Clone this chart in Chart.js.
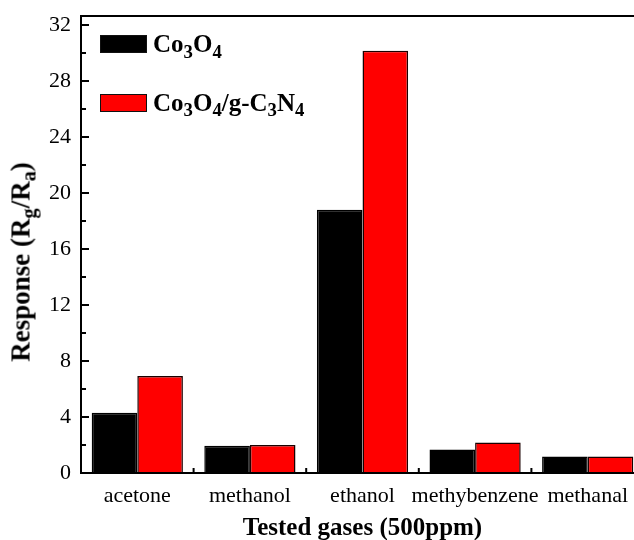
<!DOCTYPE html>
<html>
<head>
<meta charset="utf-8">
<title>Response of Co3O4 and Co3O4/g-C3N4</title>
<script src="https://cdn.jsdelivr.net/npm/chart.js@4.4.1/dist/chart.umd.min.js"></script>
<style>
    html, body { margin: 0; padding: 0; background: #fff; overflow: hidden; }
    #wrap { position: relative; width: 644px; height: 540px; }
    #yTitle {
        position: absolute; left: 21px; top: 262px;
        transform: translate(-50%, -50%) rotate(-90deg);
        font: bold 27px "Liberation Serif", serif; white-space: nowrap; color: #000;
    }
    #legend { position: absolute; left: 100px; top: 29px; font: bold 25px "Liberation Serif", serif; color: #000; }
    .item { display: flex; align-items: center; height: 30px; margin-bottom: 28.5px; white-space: nowrap; }
    .box { width: 47px; height: 18px; border: 1px solid #111; box-sizing: border-box; margin-right: 6px; }
    sub { position: relative; top: 0.3em; vertical-align: baseline; font-size: 75%; line-height: 0; }
</style>
</head>
<body>
<div id="wrap">
    <canvas id="gasChart" width="644" height="540"></canvas>
    <div id="legend"></div>
    <div id="yTitle">Response (R<sub>g</sub>/R<sub>a</sub>)</div>
</div>
<script>
    // Data
    const categories = ['acetone', 'methanol', 'ethanol', 'methybenzene', 'methanal'];
    const seriesNames = ['Co3O4', 'Co3O4/g-C3N4'];
    const co3o4Values = [4.3, 1.95, 18.8, 1.67, 1.17];
    const compositeValues = [6.93, 2.0, 30.16, 2.17, 1.17];
    const yTicks = [0, 4, 8, 12, 16, 20, 24, 28, 32];

    /**
     * Frame plus the inward tick marks of the original plot
     */
    const frameTicks = {
        id: 'frameTicks',
        afterDatasetsDraw(chart) {
            const { ctx, chartArea: a, scales: { x, y } } = chart;
            ctx.save();
            ctx.strokeStyle = '#000';
            ctx.lineWidth = 2;
            ctx.strokeRect(a.left, a.top, a.right - a.left, a.bottom - a.top);
            ctx.beginPath();
            yTicks.forEach(function(v, i) {
                const py = y.getPixelForValue(v);
                ctx.moveTo(a.left, py);
                ctx.lineTo(a.left + 8, py);
                if (i < yTicks.length - 1) {
                    const pm = y.getPixelForValue((v + yTicks[i + 1]) / 2);
                    ctx.moveTo(a.left, pm);
                    ctx.lineTo(a.left + 5, pm);
                }
            });
            for (let i = 1; i < categories.length; i++) {
                const px = (x.getPixelForValue(i - 1) + x.getPixelForValue(i)) / 2;
                ctx.moveTo(px, a.bottom);
                ctx.lineTo(px, a.bottom - 5);
            }
            ctx.stroke();
            ctx.restore();
        }
    };

    const chart = new Chart(document.getElementById('gasChart'), {
        type: 'bar',
        data: {
            labels: categories,
            datasets: [{
                label: seriesNames[0],
                data: co3o4Values,
                backgroundColor: '#000000',
                borderColor: '#000000',
                borderWidth: 1.5
            }, {
                label: seriesNames[1],
                data: compositeValues,
                backgroundColor: '#ff0000',
                borderColor: '#1a0000',
                borderWidth: 1.5
            }]
        },
        options: {
            responsive: false,
            animation: false,
            layout: { padding: { top: 16, right: 0, left: 0, bottom: 0 } },
            datasets: { bar: { categoryPercentage: 0.81, barPercentage: 1 } },
            plugins: {
                legend: { display: false },
                tooltip: { enabled: false }
            },
            scales: {
                x: {
                    grid: { display: false },
                    border: { display: false },
                    ticks: {
                        color: '#000',
                        padding: 2,
                        autoSkip: false,
                        maxRotation: 0,
                        font: { family: 'Liberation Serif', size: 22 }
                    },
                    title: {
                        display: true,
                        text: 'Tested gases (500ppm)',
                        color: '#000',
                        padding: 0,
                        font: { family: 'Liberation Serif', size: 25, weight: 'bold', lineHeight: 0.9 }
                    },
                    afterFit: function(scale) {
                        scale.height = 67;
                        scale.paddingLeft = 0;
                        scale.paddingRight = 0;
                    }
                },
                y: {
                    min: 0,
                    max: 32.64,
                    grid: { display: false, drawTicks: false },
                    border: { display: false },
                    ticks: {
                        color: '#000',
                        padding: 10,
                        font: { family: 'Liberation Serif', size: 22 }
                    },
                    afterBuildTicks: function(scale) {
                        scale.ticks = yTicks.map(v => ({ value: v }));
                    },
                    afterFit: function(scale) {
                        scale.width = 81;
                        scale.paddingTop = 0;
                        scale.paddingBottom = 0;
                    }
                }
            }
        },
        plugins: [frameTicks]
    });

    // HTML legend so the chemical formulas can keep their subscripts
    const legend = document.getElementById('legend');
    chart.data.datasets.forEach(function(ds) {
        const item = document.createElement('div');
        item.className = 'item';
        item.innerHTML = '<span class="box" style="background:' + ds.backgroundColor + '"></span>' +
            '<span>' + ds.label.replace(/(\d)/g, '<sub>$1</sub>') + '</span>';
        legend.appendChild(item);
    });
</script>
</body>
</html>
